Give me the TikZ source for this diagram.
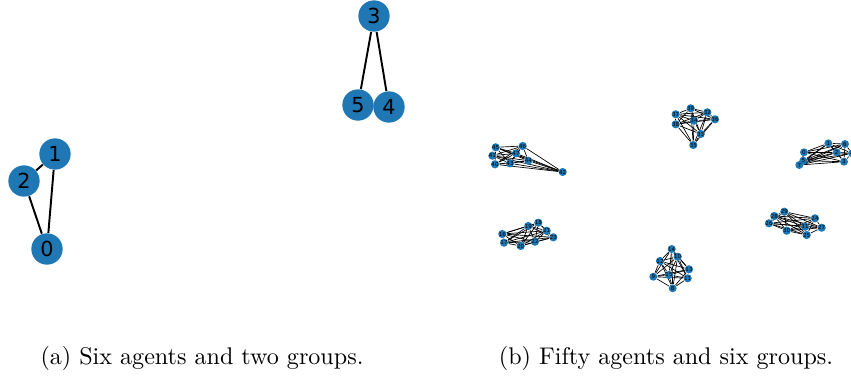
\documentclass[tikz,border=0pt]{standalone}
\usepackage{fontspec}
\newfontfamily\dvs{DejaVu Sans}
\usetikzlibrary{backgrounds}
\definecolor{nb}{HTML}{1F78B4}
\begin{document}
\begin{tikzpicture}[x=0.415pt,y=-0.415pt,
  bignode/.style={circle,fill=nb,minimum size=13pt,inner sep=0pt,font=\dvs\fontsize{8.6}{9}\selectfont},
  smallnode/.style={circle,fill=nb,minimum size=3.3pt,inner sep=0pt,font=\dvs\fontsize{2.3}{2.5}\selectfont},
  bigedge/.style={line width=0.8pt,black},
  smalledge/.style={line width=0.28pt,black},
  captext/.style={font=\fontsize{10}{12}\selectfont}]
\useasboundingbox (0,0) rectangle (851,377);
% left graph
\node[bignode] (n0) at (47,249) {0};
\node[bignode] (n1) at (55,154) {1};
\node[bignode] (n2) at (24,181) {2};
\node[bignode] (n3) at (374,16) {3};
\node[bignode] (n4) at (389,107) {4};
\node[bignode] (n5) at (358,105) {5};
\begin{pgfonlayer}{background}
\draw[bigedge] (n2) -- (n1);
\draw[bigedge] (n2) -- (n0);
\draw[bigedge] (n1) -- (n0);
\draw[bigedge] (n3) -- (n5);
\draw[bigedge] (n3) -- (n4);
\end{pgfonlayer}
% right graph
\foreach \k/\x/\y in {
 0/804/152.3, 1/828.3/143.3, 2/836.7/152.3, 3/844/161.7, 4/852/153.3, 5/803.3/160.7, 6/845/144, 7/799.3/165,
 8/672.7/288.3, 9/653.3/276.7, 10/677.7/256.7, 11/687.7/278.3, 12/660/261, 13/689/269.3, 14/671.7/249, 15/669/275,
 16/502.3/234, 17/504/242.7, 18/538.3/222.7, 19/528.3/226, 20/520.7/246, 21/546.7/230.7, 22/535/241.7, 23/553.3/237.3,
 24/815/218.3, 25/806.7/235, 26/769/223.3, 27/821.7/227.7, 28/774.3/216, 29/784.3/211.7, 30/786.7/230.7, 31/805/226.7,
 32/707.3/112.3, 33/700.7/134, 34/694/120.7, 35/693.3/145, 36/715/119.3, 37/675.7/114.3, 38/675.7/124.3, 39/690.7/108.3,
 40/495/164.3, 41/492.3/155.7, 42/562.7/172, 43/510/163.3, 44/528.3/160.7, 45/495.7/147.3, 46/522.7/146, 47/516/153.3}
  {\node[smallnode] (r\k) at (\x,\y) {\k};}
\begin{pgfonlayer}{background}
\foreach \g in {0,8,16,24,32,40}{
  \foreach \a in {0,...,7}{
    \foreach \b in {0,...,7}{
      \ifnum\a<\b
        \pgfmathtruncatemacro{\p}{\g+\a}
        \pgfmathtruncatemacro{\q}{\g+\b}
        \draw[smalledge] (r\p) -- (r\q);
      \fi
    }
  }
}
\end{pgfonlayer}
% captions
\node[captext] (ca) at (202,358) {(a) Six agents and two groups.};
\node[captext] (cb) at (666,358) {(b) Fifty agents and six groups.};
\end{tikzpicture}
\end{document}
